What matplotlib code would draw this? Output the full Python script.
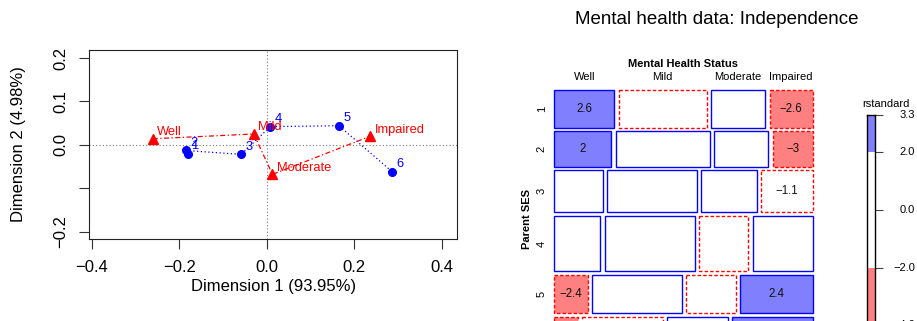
import numpy as np
import matplotlib
matplotlib.use('Agg')
import matplotlib.pyplot as plt
from matplotlib.patches import Rectangle
import matplotlib.transforms as mtransforms

plt.rcParams['font.family'] = ['Liberation Sans', 'DejaVu Sans']

# ---------------- data: correspondence analysis ----------------
row_labels = ['1', '2', '3', '4', '5', '6']
row_dim1 = [-0.181, -0.185, -0.059, 0.008, 0.165, 0.287]
row_dim2 = [-0.021, -0.013, -0.022, 0.042, 0.044, -0.062]
col_labels = ['Well', 'Mild', 'Moderate', 'Impaired']
col_dim1 = [-0.261, -0.030, 0.013, 0.237]
col_dim2 = [0.014, 0.025, -0.068, 0.020]
xticks = [-0.4, -0.2, 0.0, 0.2, 0.4]
yticks = [-0.2, -0.1, 0.0, 0.1, 0.2]
ytick_labels = ['\u22120.2', '', '0.0', '0.1', '0.2']
xlabel = 'Dimension 1 (93.95%)'
ylabel = 'Dimension 2 (4.98%)'

# ---------------- data: mosaic ----------------
ses_levels = ['1', '2', '3', '4', '5', '6']
mh_levels = ['Well', 'Mild', 'Moderate', 'Impaired']
counts = np.array([[64, 94, 58, 46],
                   [57, 94, 54, 40],
                   [57, 105, 65, 60],
                   [72, 141, 77, 94],
                   [36, 97, 54, 78],
                   [21, 71, 54, 71]])
resid = np.array([[2.6, -0.1, 0.2, -2.6],
                  [2.04, 0.8, 0.1, -2.98],
                  [0.7, 0.1, 0.4, -1.1],
                  [0.2, 0.2, -0.9, 0.6],
                  [-2.4, 0.1, -0.6, 2.4],
                  [-4.0, -1.2, 1.1, 3.3]])
legend_ticks = [3.3, 2.0, 0.0, -2.0, -4.0]

W_PX, H_PX = 917, 321
fig = plt.figure(figsize=(W_PX / 100, H_PX / 100), dpi=100)


def fx(px):
    return px / W_PX


def fy(py):
    return 1 - py / H_PX


# ---------------- left: CA plot ----------------
ax = fig.add_axes([fx(89), fy(239), (457.3 - 89) / W_PX, (239 - 50) / H_PX])
ax.set_xlim(-0.407, 0.436)
ax.set_ylim(-0.2168, 0.2184)
ax.axhline(0, color='#777777', ls=(0, (1, 2)), lw=0.8, zorder=1)
ax.axvline(0, color='#777777', ls=(0, (1, 2)), lw=0.8, zorder=1)
ax.plot(row_dim1, row_dim2, color='#0000FF', ls=(0, (1, 2)), lw=0.9, zorder=2)
ax.plot(col_dim1, col_dim2, color='#FF0000', ls=(0, (4, 2, 1, 2)), lw=0.9, zorder=2)
ax.plot(row_dim1, row_dim2, 'o', color='#0000FF', ms=5.5, mec='#0000FF', zorder=3)
ax.plot(col_dim1, col_dim2, '^', color='#FF0000', ms=7, mec='#FF0000', zorder=3)
for lab, x, y in zip(row_labels, row_dim1, row_dim2):
    ax.annotate(lab, (x, y), xytext=(3.0, 3.3), textcoords='offset points',
                color='#0000FF', fontsize=9.3, ha='left', va='baseline', zorder=4)
for lab, x, y in zip(col_labels, col_dim1, col_dim2):
    ax.annotate(lab, (x, y), xytext=(3.2, 2.6), textcoords='offset points',
                color='#FF0000', fontsize=9.3, ha='left', va='baseline', zorder=4)
ax.set_xticks(xticks)
ax.set_xticklabels(['%.1f' % v if v >= 0 else '\u2212%.1f' % -v for v in xticks])
ax.set_yticks(yticks)
ax.set_yticklabels(ytick_labels, rotation=90, va='center')
ax.tick_params(direction='out', length=7, width=0.8, labelsize=12, pad=8, color='#333333')
for s in ax.spines.values():
    s.set_linewidth(0.8)
    s.set_color('#222222')
fig.text(fx((89 + 457.3) / 2), fy(286), xlabel, fontsize=12, ha='center', va='center')
fig.text(fx(19), fy((50 + 239) / 2), ylabel, fontsize=12, ha='center', va='center', rotation=90)

# ---------------- right: mosaic ----------------
fig.text(fx(717), fy(19), 'Mental health data: Independence', fontsize=13.5,
         ha='center', va='center')

mx0, mx1, my0, my1 = 554.3, 812.7, 90.0, 348.2
MW, MH = mx1 - mx0, my1 - my0
axm = fig.add_axes([fx(mx0), fy(my1), MW / W_PX, MH / H_PX])
axm.set_xlim(0, MW)
axm.set_ylim(MH, 0)
axm.axis('off')
gx, gy = 4.3, 3.4
N = counts.sum()
rt = counts.sum(axis=1)
nr, nc = counts.shape
y0 = 0.0
row_centers = []
top_centers = []
for i in range(nr):
    h = (MH - (nr - 1) * gy) * rt[i] / N
    x0 = 0.0
    for j in range(nc):
        w = (MW - (nc - 1) * gx) * counts[i, j] / rt[i]
        r = resid[i, j]
        if r > 2:
            fc = '#8080FF'
        elif r < -2:
            fc = '#FF8080'
        else:
            fc = 'white'
        if r >= 0:
            ec, ls = '#0000FF', '-'
        else:
            ec, ls = '#FF0000', (0, (2.5, 1.5))
        axm.add_patch(Rectangle((x0, y0), w, h, facecolor=fc, edgecolor=ec,
                                linestyle=ls, linewidth=1.0, clip_on=False))
        if abs(r) >= 1:
            s = ('%.1f' % abs(r)).rstrip('0').rstrip('.')
            if r < 0:
                s = '\u2212' + s
            axm.text(x0 + w / 2, y0 + h / 2, s, fontsize=8.3, ha='center', va='center',
                     color='#111111', clip_on=False)
        if i == 0:
            top_centers.append(x0 + w / 2)
        x0 += w + gx
    row_centers.append(y0 + h / 2)
    y0 += h + gy

for lab, xc in zip(mh_levels, top_centers):
    axm.text(xc, -13.5, lab, fontsize=8, ha='center', va='center')
axm.text(MW / 2, -26, 'Mental Health Status', fontsize=8, fontweight='bold',
         ha='center', va='center')
for lab, yc in zip(ses_levels, row_centers):
    axm.text(-12.6, yc, lab, fontsize=8, ha='center', va='center', rotation=90)
axm.text(-27.3, MH / 2, 'Parent SES', fontsize=8, fontweight='bold',
         ha='center', va='center', rotation=90)

# ---------------- legend ----------------
zero_px, ppu = 210.0, 28.85
lmax, lmin = resid.max(), resid.min()
ltop = zero_px - lmax * ppu
lbot = zero_px - lmin * ppu
lx0, lx1 = 866.7, 875.0
axl = fig.add_axes([fx(lx0), fy(lbot), (lx1 - lx0) / W_PX, (lbot - ltop) / H_PX])
axl.set_xlim(0, 1)
axl.set_ylim(lmin, lmax)
axl.axhspan(2, lmax, color='#8080FF', lw=0)
axl.axhspan(lmin, -2, color='#FF8080', lw=0)
axl.set_xticks([])
axl.yaxis.tick_right()
axl.set_yticks(legend_ticks)
axl.set_yticklabels([''] * len(legend_ticks))
axl.tick_params(axis='y', direction='out', length=5.5, width=0.8, color='#444444')
for s in axl.spines.values():
    s.set_linewidth(1.0)
    s.set_color('black')
tr = mtransforms.blended_transform_factory(axl.transAxes, axl.transData)
xr = (915 - lx0) / (lx1 - lx0)
for v in legend_ticks:
    s = '%.1f' % abs(v)
    if v < 0:
        s = '\u2212' + s
    axl.text(xr, v, s, transform=tr, fontsize=8, ha='right', va='center', clip_on=False)
fig.text(fx(886), fy(104), 'rstandard', fontsize=8, ha='center', va='center')

fig.savefig('out.png', dpi=100)
